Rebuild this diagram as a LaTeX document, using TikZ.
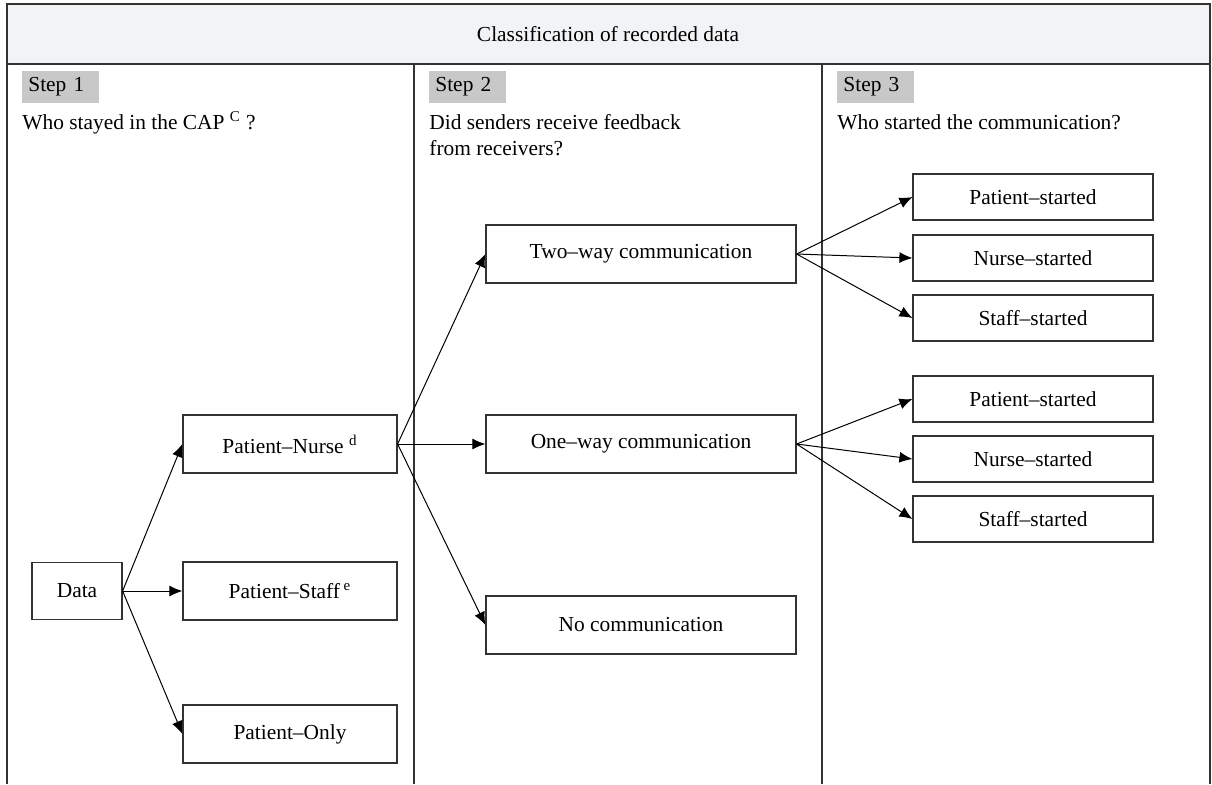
\documentclass[tikz,border=0pt]{standalone}
\usepackage{fontspec}
\setmainfont{Liberation Serif}
\usepackage{tikz}
\usetikzlibrary{arrows.meta}

\definecolor{headgray}{HTML}{F2F3F5}
\definecolor{stepgray}{HTML}{C8C8C8}
\definecolor{framegray}{HTML}{333333}

\begin{document}
\begin{tikzpicture}[x=0.5pt,y=-0.5pt,font=\fontsize{10.7}{13}\selectfont,
    box/.style={draw=framegray,line width=0.6pt,inner sep=0pt,align=center},
    steplabel/.style={fill=stepgray,anchor=west,inner xsep=3pt,text width=32.5pt,minimum height=13.5pt,align=left},
    arr/.style={line width=0.5pt,-{Latex[length=6.5pt,width=5.5pt]}}]
    \useasboundingbox (0,0) rectangle (1212,784);
    \fill[headgray] (7,4) rectangle (1210,64); % header band
    \draw[framegray,line width=0.75pt] (7,784)--(7,4)--(1210,4)--(1210,784);
    \draw[framegray,line width=0.75pt] (7,64)--(1210,64);
    \draw[framegray,line width=0.75pt] (414,64)--(414,784);
    \draw[framegray,line width=0.75pt] (822,64)--(822,784);
    \node (title) at (608,34){Classification of recorded data};
    % column headings
    \node[steplabel] (s1) at (22,87){Step 1};
    \node[steplabel] (s2) at (429,87){Step 2};
    \node[steplabel] (s3) at (837,87){Step 3};
    \node[anchor=base west,inner sep=0pt] (q1) at (22,129){Who stayed in the CAP \textsuperscript{C} ?};
    \node[anchor=base west,inner sep=0pt,align=left] (q2) at (429,155){Did senders receive feedback\\from receivers?}; % base = last line
    \node[anchor=base west,inner sep=0pt] (q3) at (837,129){Who started the communication?};
    % step 1
    \node[box,minimum width=45pt,minimum height=28.5pt] (data) at (77,591){Data};
    \node[box,minimum width=107pt,minimum height=29pt] (pn) at (290,444){Patient--Nurse \textsuperscript{d}};
    \node[box,minimum width=107pt,minimum height=29pt] (ps) at (290,591){Patient--Staff\,\textsuperscript{e}};
    \node[box,minimum width=107pt,minimum height=29pt] (po) at (290,734){Patient--Only};
    % step 2
    \node[box,minimum width=155pt,minimum height=29pt] (two) at (641,254){Two--way communication};
    \node[box,minimum width=155pt,minimum height=29pt] (one) at (641,444){One--way communication};
    \node[box,minimum width=155pt,minimum height=29pt] (none) at (641,625){No communication};
    % step 3
    \node[box,minimum width=120pt,minimum height=23pt] (tp) at (1033,197){Patient--started};
    \node[box,minimum width=120pt,minimum height=23pt] (tn) at (1033,258){Nurse--started};
    \node[box,minimum width=120pt,minimum height=23pt] (ts) at (1033,318){Staff--started};
    \node[box,minimum width=120pt,minimum height=23pt] (op) at (1033,399){Patient--started};
    \node[box,minimum width=120pt,minimum height=23pt] (on) at (1033,459){Nurse--started};
    \node[box,minimum width=120pt,minimum height=23pt] (os) at (1033,519){Staff--started};
    % arrows
    \draw[arr] (data.east)--(pn.west);
    \draw[arr] (data.east)--(ps.west);
    \draw[arr] (data.east)--(po.west);
    \draw[arr] (pn.east)--(two.west);
    \draw[arr] (pn.east)--(one.west);
    \draw[arr] (pn.east)--(none.west);
    \draw[arr] (two.east)--(tp.west);
    \draw[arr] (two.east)--(tn.west);
    \draw[arr] (two.east)--(ts.west);
    \draw[arr] (one.east)--(op.west);
    \draw[arr] (one.east)--(on.west);
    \draw[arr] (one.east)--(os.west);
\end{tikzpicture}
\end{document}
